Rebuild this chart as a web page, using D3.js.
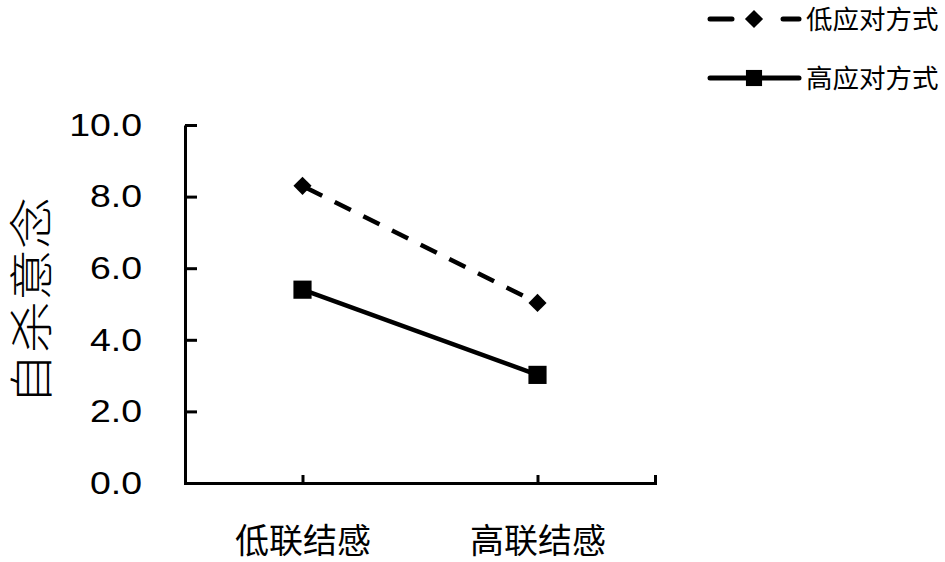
<!DOCTYPE html>
<html><head><meta charset="utf-8">
<script src="https://cdn.jsdelivr.net/npm/d3@7"></script>
<style>body{margin:0;background:#fff}svg{display:block}</style>
</head><body>
<svg id="c" width="945" height="562"></svg>
<script>
const categories = ["低联结感", "高联结感"];
const seriesNames = ["低应对方式", "高应对方式"];
const lowCoping = [8.30, 5.03];
const highCoping = [5.40, 3.02];
const yTicks = [0, 2, 4, 6, 8, 10];
const yTitle = "自杀意念";

(function () {
const svg = d3.select("#c");
const pL = 185, pR = 655, pT = 125, pB = 483;
const x = d3.scalePoint().domain(categories).range([pL, pR]).padding(0.5);
const y = d3.scaleLinear().domain([0, 10]).range([pB, pT]);
const numFont = "'Liberation Sans', Arial, sans-serif";
const cjkFont = "'Noto Sans CJK SC', sans-serif";

// y axis
const ya = svg.append("g").attr("transform", `translate(${pL},0)`)
  .call(d3.axisLeft(y).tickValues(yTicks).tickSizeInner(-12).tickSizeOuter(0).tickPadding(43).tickFormat(d3.format(".1f")));
ya.select(".domain").attr("stroke", "#000").attr("stroke-width", 3);
ya.selectAll(".tick line").attr("stroke", "#000").attr("stroke-width", 3);
ya.selectAll(".tick text").attr("font-family", numFont).attr("font-size", 32).attr("fill", "#000")
  .each(function () {
    const w = this.getComputedTextLength();
    d3.select(this).attr("textLength", w * 1.17).attr("lengthAdjust", "spacingAndGlyphs");
  });

// x axis
const xa = svg.append("g").attr("transform", `translate(0,${pB})`)
  .call(d3.axisBottom(x).tickSizeInner(-8).tickSizeOuter(-8).tickPadding(46));
xa.select(".domain").attr("stroke", "#000").attr("stroke-width", 3).attr("fill", "none");
xa.selectAll(".tick line").attr("stroke", "#000").attr("stroke-width", 3);
xa.selectAll(".tick text").attr("font-family", cjkFont).attr("font-size", 34).attr("fill", "#000");

// y title
svg.append("text").attr("transform", `translate(48,301) rotate(-90)`)
  .attr("text-anchor", "middle").attr("font-family", cjkFont).attr("font-size", 44)
  .attr("font-weight", 300)
  .attr("textLength", 208).attr("lengthAdjust", "spacingAndGlyphs")
  .attr("fill", "#000").text(yTitle);

const line = d3.line().x((d, i) => x(categories[i])).y(d => y(d));
svg.append("path").datum(lowCoping).attr("d", line).attr("fill", "none")
  .attr("stroke", "#000").attr("stroke-width", 4.5).attr("stroke-dasharray", "18,14").attr("stroke-dashoffset", -4);
svg.append("path").datum(highCoping).attr("d", line).attr("fill", "none")
  .attr("stroke", "#000").attr("stroke-width", 4.5);

const diamond = d3.symbol().type(d3.symbolDiamond2).size(210);
const square = d3.symbol().type(d3.symbolSquare).size(330);
svg.selectAll(".dm").data(lowCoping).join("path")
  .attr("transform", (d, i) => `translate(${x(categories[i])},${y(d)})`)
  .attr("d", diamond).attr("fill", "#000");
svg.selectAll(".sq").data(highCoping).join("path")
  .attr("transform", (d, i) => `translate(${x(categories[i])},${y(d)})`)
  .attr("d", square).attr("fill", "#000");

// legend
const lg = svg.append("g");
const legY = [19, 78];
lg.append("line").attr("x1", 710).attr("x2", 732).attr("y1", legY[0]).attr("y2", legY[0]).attr("stroke", "#000").attr("stroke-width", 5).attr("stroke-linecap", "round");
lg.append("line").attr("x1", 783).attr("x2", 799).attr("y1", legY[0]).attr("y2", legY[0]).attr("stroke", "#000").attr("stroke-width", 5).attr("stroke-linecap", "round");
lg.append("path").attr("transform", `translate(754,${legY[0]})`).attr("d", d3.symbol().type(d3.symbolDiamond2).size(210)).attr("fill", "#000");
lg.append("line").attr("x1", 710).attr("x2", 799).attr("y1", legY[1]).attr("y2", legY[1]).attr("stroke", "#000").attr("stroke-width", 5).attr("stroke-linecap", "round");
lg.append("path").attr("transform", `translate(754,${legY[1]})`).attr("d", d3.symbol().type(d3.symbolSquare).size(260)).attr("fill", "#000");
seriesNames.forEach((n, i) => {
  lg.append("text").attr("x", 806).attr("y", legY[i]).attr("dy", "0.36em")
    .attr("font-family", cjkFont).attr("font-size", 26.5).attr("fill", "#000").text(n);
});
})();
</script>
</body></html>
